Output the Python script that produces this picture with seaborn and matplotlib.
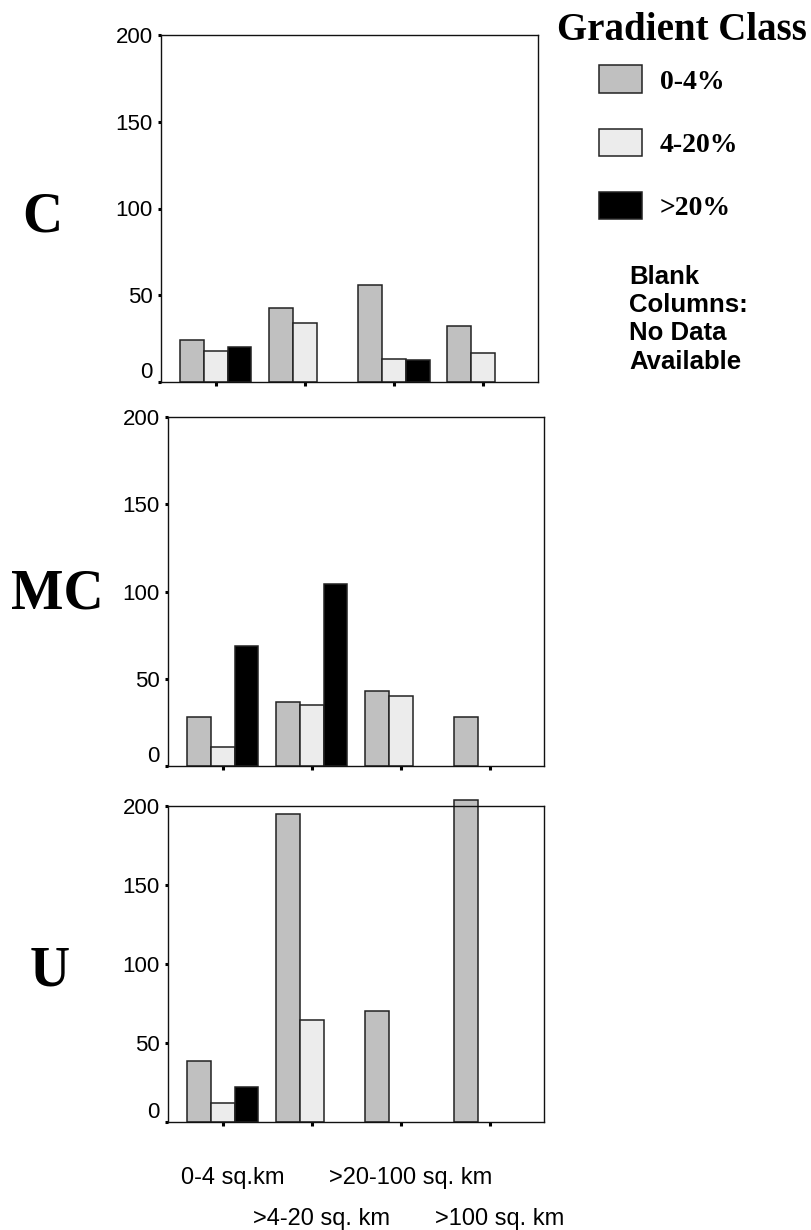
import numpy as np
import pandas as pd
import matplotlib
matplotlib.use("Agg")
import matplotlib.pyplot as plt
import matplotlib.transforms as mtransforms
from matplotlib.patches import Patch
from matplotlib.font_manager import FontProperties
import seaborn as sns

# ---------------- data ----------------
size_classes = ["0-4 sq.km", ">4-20 sq. km", ">20-100 sq. km", ">100 sq. km"]
gradient_classes = ["0-4%", "4-20%", ">20%"]
panels = ["C", "MC", "U"]

c_gentle = [24, 42.5, 56, 32.5]
c_moderate = [18, 34, 13.5, 16.5]
c_steep = [20, None, 12.5, None]

mc_gentle = [28, 36.5, 43, 28]
mc_moderate = [11, 35, 40, None]
mc_steep = [69, 104.5, None, None]

u_gentle = [38, 194.5, 70, 203.5]
u_moderate = [11.5, 64.5, None, None]
u_steep = [22, None, None, None]

y_ticks = [0, 50, 100, 150, 200]
colors = ["#c0c0c0", "#ececec", "#000000"]

panel_values = {
    "C": [c_gentle, c_moderate, c_steep],
    "MC": [mc_gentle, mc_moderate, mc_steep],
    "U": [u_gentle, u_moderate, u_steep],
}

rows = []
for p in panels:
    for g, vals in zip(gradient_classes, panel_values[p]):
        for s, v in zip(size_classes, vals):
            if v is not None:
                rows.append({"panel": p, "size": s, "gradient": g, "count": v})
df = pd.DataFrame(rows)

# ---------------- style ----------------
sns.set_style("white")
plt.rcParams["font.family"] = ["Liberation Sans", "DejaVu Sans"]
plt.rcParams["text.color"] = "black"

W, H = 812, 1230
fig = plt.figure(figsize=(W / 100, H / 100), dpi=100)


def rect(l, t, r, b):
    return [l / W, 1 - b / H, (r - l) / W, (b - t) / H]


rects = {
    "C": rect(161, 35, 537.7, 382),
    "MC": rect(168.3, 417.3, 544.3, 766),
    "U": rect(168.3, 805.7, 544.3, 1121.5),
}
label_pos = {"C": (42, 232), "MC": (57, 608), "U": (50, 985)}

serif_bold = dict(family=["Liberation Serif", "DejaVu Serif"], weight="bold")

for p in panels:
    ax = fig.add_axes(rects[p])
    sub = df[df["panel"] == p]
    sns.barplot(data=sub, x="size", y="count", hue="gradient",
                order=size_classes, hue_order=gradient_classes,
                palette=colors, saturation=1, errorbar=None,
                edgecolor="#222222", linewidth=1.1, width=0.8,
                legend=False, ax=ax)
    for patch in ax.patches:
        patch.set_clip_on(False)
    ax.set_xlim(-0.614, 3.614)
    ax.set_ylim(0, 200)
    ax.set_yticks(y_ticks)
    ax.set_yticklabels([str(t) for t in y_ticks])
    ax.set_xlabel("")
    ax.set_ylabel("")
    for sp in ax.spines.values():
        sp.set_visible(True)
        sp.set_color("#111111")
        sp.set_linewidth(1.0)
    ax.tick_params(axis="y", left=True, length=2.5, width=2.2, pad=3.5,
                   labelsize=16, color="black", labelcolor="black")
    if p == "U":
        ax.set_xticks(range(len(size_classes)))
        ax.set_xticklabels(size_classes)
        ax.tick_params(axis="x", bottom=True, length=3, width=2.2, pad=29.5,
                       labelsize=17, color="black", labelcolor="black")
        for i, lab in enumerate(ax.get_xticklabels()):
            dy = 0 if i % 2 == 0 else -41 / 100
            off = mtransforms.ScaledTranslation(10 / 100, dy, fig.dpi_scale_trans)
            lab.set_transform(lab.get_transform() + off)
    else:
        ax.set_xticks(range(len(size_classes)))
        ax.set_xticklabels([])
        ax.tick_params(axis="x", bottom=True, length=3, width=2.2,
                       color="black")
    zero = ax.get_yticklabels()[0]
    zero.set_transform(zero.get_transform() +
                       mtransforms.ScaledTranslation(0, 12 / 100, fig.dpi_scale_trans))
    x, y = label_pos[p]
    fig.text(x / W, 1 - y / H, p, ha="center", va="baseline", fontsize=40,
             color="black", **serif_bold)

# ---------------- legend ----------------
fig.text(681.5 / W, 1 - 40 / H, "Gradient Class", ha="center", va="baseline",
         fontsize=28, color="black", **serif_bold)
handles = [Patch(facecolor=c, edgecolor="#222222", linewidth=1.1) for c in colors]
fig.legend(handles, gradient_classes, loc="upper left",
           bbox_to_anchor=(599 / W, 1 - 65.5 / H), bbox_transform=fig.transFigure,
           frameon=False, borderpad=0, borderaxespad=0,
           handlelength=1.55, handleheight=1.15, handletextpad=0.65,
           labelspacing=1.22, labelcolor="black",
           prop=FontProperties(family="Liberation Serif", weight="bold", size=20))
fig.text(629 / W, 1 - 265 / H, "Blank\nColumns:\nNo Data\nAvailable",
         ha="left", va="top", fontsize=18.5, fontweight="bold", color="black",
         linespacing=1.22)

fig.savefig("out.png", dpi=100)
